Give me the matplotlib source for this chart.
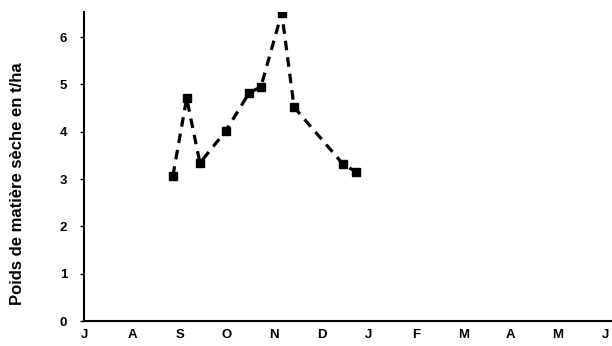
import matplotlib.pyplot as plt

# mois (juillet -> juin)
months = ['J', 'A', 'S', 'O', 'N', 'D', 'J', 'F', 'M', 'A', 'M', 'J']

# dates des prélèvements (en mois depuis début juillet) et poids sec en t/ha
dates = [1.86, 2.15, 2.43, 2.98, 3.47, 3.72, 4.16, 4.42, 5.45, 5.73]
poids = [3.07, 4.71, 3.34, 4.02, 4.82, 4.95, 6.51, 4.52, 3.32, 3.15]

plt.rcParams['font.family'] = ['Liberation Sans', 'DejaVu Sans']

fig = plt.figure(figsize=(6.12, 3.46), dpi=100)
ax = fig.add_axes([84 / 612, 25 / 346, 528 / 612, 309 / 346])

ax.plot(dates, poids, color='black', linestyle=(0, (3, 2.2)), linewidth=2.3,
        marker='s', markersize=5.5, markerfacecolor='black', markeredgecolor='black')

ax.set_xlim(-0.02, 11.14)
ax.set_ylim(0, 6.53)
ax.set_xticks(range(len(months)))
ax.set_xticklabels(months, fontsize=9.5, fontweight='bold')
ax.set_yticks(range(7))
ax.set_yticklabels([str(i) for i in range(7)], fontsize=9.5, fontweight='bold')
ax.tick_params(axis='y', length=3, width=1, pad=9)
ax.tick_params(axis='x', length=0, pad=6)

ax.spines['top'].set_visible(False)
ax.spines['right'].set_visible(False)
ax.spines['left'].set_linewidth(1.5)
ax.spines['bottom'].set_linewidth(1.5)

# titre de l'axe y placé à la main (plus bas que le centre de l'axe)
fig.text(18 / 612, 1 - 184 / 346, 'Poids de matière sèche en t/ha', rotation=90,
         ha='center', va='center', fontsize=12, fontweight='bold')

fig.savefig('out.png', dpi=100)
